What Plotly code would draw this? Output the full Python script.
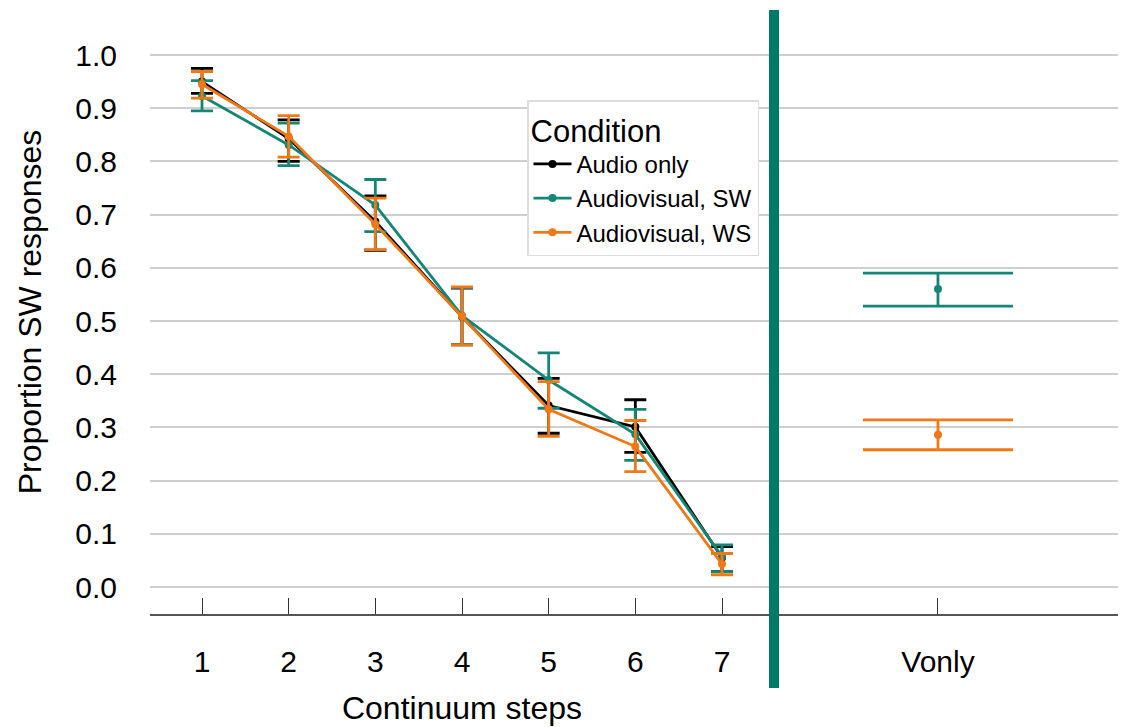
import plotly.graph_objects as go
from plotly.subplots import make_subplots

steps = [1, 2, 3, 4, 5, 6, 7]
step_labels = ["1", "2", "3", "4", "5", "6", "7"]

audio_mean = [0.950, 0.843, 0.687, 0.508, 0.341, 0.301, 0.055]
audio_lo   = [0.928, 0.800, 0.633, 0.455, 0.289, 0.253, 0.029]
audio_hi   = [0.975, 0.878, 0.735, 0.562, 0.392, 0.352, 0.076]

avsw_mean = [0.923, 0.831, 0.718, 0.510, 0.389, 0.287, 0.057]
avsw_lo   = [0.895, 0.792, 0.668, 0.456, 0.336, 0.238, 0.029]
avsw_hi   = [0.952, 0.872, 0.766, 0.563, 0.440, 0.334, 0.079]

avws_mean = [0.945, 0.847, 0.682, 0.509, 0.334, 0.264, 0.043]
avws_lo   = [0.919, 0.808, 0.634, 0.455, 0.283, 0.217, 0.023]
avws_hi   = [0.969, 0.886, 0.731, 0.564, 0.386, 0.313, 0.063]

vonly_cat = ["Vonly"]
vonly_sw_mean, vonly_sw_lo, vonly_sw_hi = [0.560], [0.528], [0.590]
vonly_ws_mean, vonly_ws_lo, vonly_ws_hi = [0.286], [0.258], [0.314]

names = ["Audio only", "Audiovisual, SW", "Audiovisual, WS"]
colors = ["#000000", "#158676", "#F07817"]
FONT = "Liberation Sans, Arial, sans-serif"

fig = make_subplots(rows=1, cols=2, shared_yaxes=True, horizontal_spacing=0,
                    column_widths=[624, 344])

series = [(audio_mean, audio_lo, audio_hi), (avsw_mean, avsw_lo, avsw_hi), (avws_mean, avws_lo, avws_hi)]
for (m, lo, hi), name, c in zip(series, names, colors):
    fig.add_trace(go.Scatter(
        x=steps, y=m, mode="lines+markers", name=name,
        line=dict(color=c, width=2.8), marker=dict(color=c, size=8),
        error_y=dict(type="data", symmetric=False,
                     array=[h - v for h, v in zip(hi, m)],
                     arrayminus=[v - l for v, l in zip(m, lo)],
                     color=c, thickness=2.8, width=11),
    ), row=1, col=1)

for (m, lo, hi), c in [((vonly_sw_mean, vonly_sw_lo, vonly_sw_hi), colors[1]),
                       ((vonly_ws_mean, vonly_ws_lo, vonly_ws_hi), colors[2])]:
    fig.add_trace(go.Scatter(
        x=vonly_cat, y=m, mode="markers", showlegend=False,
        marker=dict(color=c, size=8),
        error_y=dict(type="data", symmetric=False,
                     array=[h - v for h, v in zip(hi, m)],
                     arrayminus=[v - l for v, l in zip(m, lo)],
                     color=c, thickness=2.8, width=75),
    ), row=1, col=2)

ymin = (587 - 614) / 532.0
ymax = (587 - 10) / 532.0

common_x = dict(showline=True, linecolor="#555555", linewidth=2, mirror=False,
                ticks="inside", ticklen=16, tickwidth=1.2, tickcolor="#333333",
                showgrid=False, zeroline=False,
                tickfont=dict(family=FONT, size=30, color="#000000"),
                ticklabelstandoff=20)

fig.update_xaxes(range=[0.4, 7.6], tickvals=steps, ticktext=step_labels,
                 title=dict(text="Continuum steps", font=dict(family=FONT, size=32, color="#000"), standoff=20),
                 **common_x, row=1, col=1)
fig.update_xaxes(type="category", range=[-0.572, 0.628], **common_x, row=1, col=2)

fig.update_yaxes(range=[ymin, ymax], tickvals=[i / 10 for i in range(11)],
                 ticktext=["%.1f" % (i / 10) for i in range(11)],
                 showgrid=True, gridcolor="#CFCFCF", gridwidth=2,
                 zeroline=False, showline=False, ticks="",
                 tickfont=dict(family=FONT, size=30, color="#000"))
fig.update_yaxes(title=dict(text="Proportion SW responses", font=dict(family=FONT, size=32, color="#000"), standoff=24),
                 ticklabelstandoff=32, row=1, col=1)

fig.add_shape(type="line", xref="paper", yref="paper",
              x0=624 / 968, x1=624 / 968, y0=(727 - 113 - 688) / 604.0, y1=1,
              line=dict(color="#007A68", width=10), layer="above")

fig.update_layout(
    width=1124, height=727,
    margin=dict(l=150, r=6, t=10, b=113),
    paper_bgcolor="white", plot_bgcolor="white",
    font=dict(family=FONT, color="#000"),
    legend=dict(
        title=dict(text="Condition", font=dict(family=FONT, size=31, color="#000")),
        font=dict(family=FONT, size=24, color="#000"),
        x=(527 - 150) / 968.0, y=(614 - 100) / 604.0, xanchor="left", yanchor="top",
        bordercolor="#DDDDDD", borderwidth=1.5, bgcolor="white",
        itemwidth=38, tracegroupgap=0,
    ),
    showlegend=True,
)

fig.write_html("out.html")
